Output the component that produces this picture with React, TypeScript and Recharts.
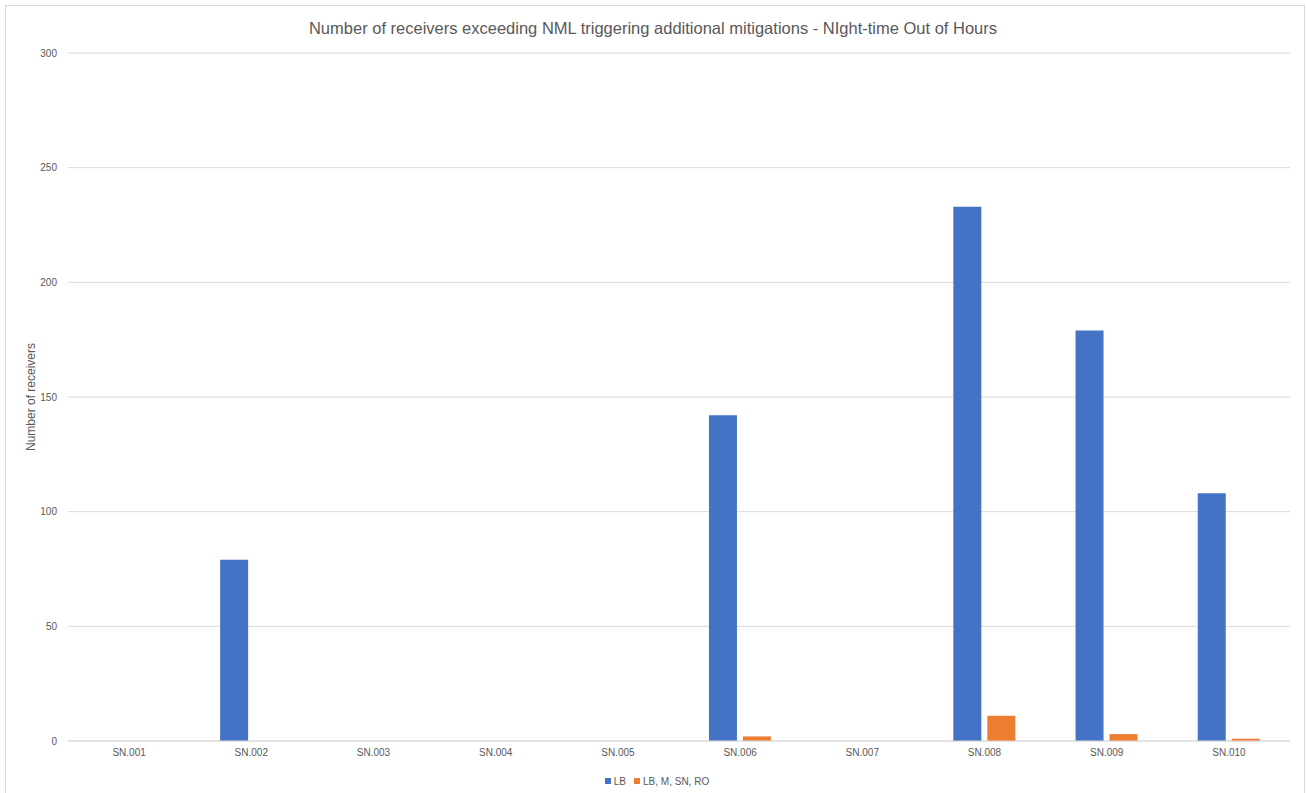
import React from 'react';
import { BarChart, Bar, XAxis, YAxis, CartesianGrid, Legend } from 'recharts';

const categories = ['SN.001', 'SN.002', 'SN.003', 'SN.004', 'SN.005', 'SN.006', 'SN.007', 'SN.008', 'SN.009', 'SN.010'];
const lbValues = [0, 79, 0, 0, 0, 142, 0, 233, 179, 108];
const lbMsnRoValues = [0, 0, 0, 0, 0, 2, 0, 11, 3, 1];
const yTicks = [0, 50, 100, 150, 200, 250, 300];
const seriesNames = ['LB', 'LB, M, SN, RO'];

const data = categories.map((c, i) => ({ name: c, lb: lbValues[i], lbm: lbMsnRoValues[i] }));

const FONT = '"Liberation Sans Narrow", "Liberation Sans", Arial, sans-serif';
const TEXT = '#595959';

const LegendContent = (props: any) => {
  const payload = props.payload || [];
  return (
    <div style={{ display: 'flex', justifyContent: 'center', alignItems: 'center', height: 20, fontFamily: FONT, fontSize: 10, color: TEXT, paddingRight: 4 }}>
      {payload.map((p: any, i: number) => (
        <div key={i} style={{ display: 'flex', alignItems: 'center', marginRight: i === payload.length - 1 ? 0 : 8 }}>
          <span style={{ display: 'inline-block', width: 6, height: 6, background: p.color, marginRight: 3 }} />
          <span>{p.value}</span>
        </div>
      ))}
    </div>
  );
};

export default function App() {
  return (
    <div style={{ position: 'fixed', left: 0, top: 0, width: 1306, height: 793, overflow: 'hidden', background: '#fff' }}>
      <div style={{ position: 'absolute', left: 5, top: 5, width: 1298, height: 820, border: '1px solid #d9d9d9' }} />
      <div style={{ position: 'absolute', left: 0, top: 19, width: 1306, textAlign: 'center', fontFamily: FONT, fontSize: 16.5, color: TEXT }}>
        Number of receivers exceeding NML triggering additional mitigations - NIght-time Out of Hours
      </div>
      <div style={{ position: 'absolute', left: 0, top: 0 }}>
        <BarChart
          width={1306}
          height={793}
          data={data}
          margin={{ top: 53, right: 16, left: 28, bottom: 2 }}
          barCategoryGap="24.5%"
          barGap={6}
        >
          <CartesianGrid vertical={false} stroke="#d9d9d9" strokeWidth={1} />
          <XAxis
            dataKey="name"
            tickLine={false}
            axisLine={{ stroke: '#d9d9d9' }}
            height={30}
            tick={{ fill: TEXT, fontSize: 10, fontFamily: FONT }}
          />
          <YAxis
            domain={[0, 300]}
            ticks={yTicks}
            width={40}
            tickLine={false}
            axisLine={false}
            tickMargin={5}
            tick={{ fill: TEXT, fontSize: 10, fontFamily: FONT }}
            label={{ value: 'Number of receivers', angle: -90, position: 'insideLeft', offset: 3, style: { textAnchor: 'middle', fill: TEXT, fontSize: 12, fontFamily: FONT } }}
          />
          <Legend verticalAlign="bottom" height={20} content={<LegendContent />} />
          <Bar dataKey="lb" name={seriesNames[0]} fill="#4472C4" isAnimationActive={false} />
          <Bar dataKey="lbm" name={seriesNames[1]} fill="#ED7D31" isAnimationActive={false} />
        </BarChart>
      </div>
    </div>
  );
}
